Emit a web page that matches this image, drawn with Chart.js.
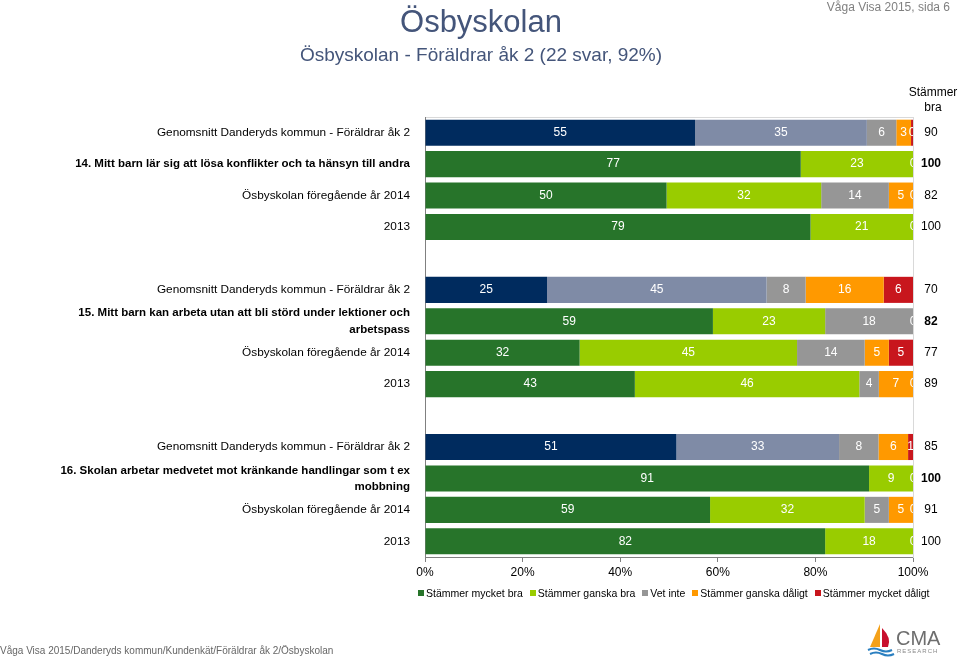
<!DOCTYPE html>
<html>
<head>
<meta charset="utf-8">
<script src="https://cdn.jsdelivr.net/npm/chart.js@4.4.1/dist/chart.umd.min.js"></script>
<style>
  html, body { margin: 0; padding: 0; background: #fff; }
  body { width: 960px; height: 660px; position: relative; overflow: hidden; font-family: 'Liberation Sans', Arial, sans-serif; }
  #wrap { position: absolute; left: 0; top: 0; width: 960px; height: 660px; }
  .abs { position: absolute; white-space: nowrap; }
  #title { left: 0; width: 962px; top: 4px; text-align: center; font-size: 31px; color: #44557A; }
  #subtitle { left: 0; width: 962px; top: 44px; text-align: center; font-size: 19px; color: #44557A; }
  #page { right: 10px; top: 0px; font-size: 12px; color: #808080; }
  #hdr { left: 906px; width: 54px; top: 85px; text-align: center; font-size: 12px; line-height: 15px; color: #000; }
  #legend { left: 418px; top: 587px; font-size: 10.5px; color: #000; display: flex; }
  #legend span.item { display: flex; align-items: center; margin-right: 7px; }
  #legend span.box { display: inline-block; width: 6px; height: 6px; margin-right: 2px; }
  #footer { left: 0; top: 645px; font-size: 10px; color: #666; }
  #logo { left: 866px; top: 620px; }
</style>
</head>
<body>
<div id="wrap"><canvas id="c" width="960" height="660"></canvas></div>
<div class="abs" id="title">Ösbyskolan</div>
<div class="abs" id="subtitle">Ösbyskolan - Föräldrar åk 2 (22 svar, 92%)</div>
<div class="abs" id="page">Våga Visa 2015, sida 6</div>
<div class="abs" id="hdr">Stämmer<br>bra</div>
<div class="abs" id="legend"></div>
<div class="abs" id="footer">Våga Visa 2015/Danderyds kommun/Kundenkät/Föräldrar åk 2/Ösbyskolan</div>
<div class="abs" id="logo">
  <svg width="90" height="40" viewBox="0 0 90 40">
    <path d="M14 4 L14 27 L4 27 Z" fill="#F4A11A"/>
    <path d="M16 8 Q26 18 22 27 L16 27 Z" fill="#C8102E"/>
    <path d="M2 30 Q8 27 14 30 T26 30" stroke="#2A7FC0" stroke-width="2" fill="none"/>
    <path d="M4 34 Q10 31 16 34 T28 34" stroke="#2A7FC0" stroke-width="2" fill="none"/>
    <text x="30" y="25" font-family="Liberation Sans, Arial" font-size="20" fill="#6E6E6E">CMA</text>
    <text x="31" y="33" font-family="Liberation Sans, Arial" font-size="6" fill="#8A8A8A" letter-spacing="1">RESEARCH</text>
  </svg>
</div>
<script>
// ---- data ----
const categories = [
  'Genomsnitt Danderyds kommun - Föräldrar åk 2',
  '14. Mitt barn lär sig att lösa konflikter och ta hänsyn till andra',
  'Ösbyskolan föregående år 2014',
  '2013',
  '',
  'Genomsnitt Danderyds kommun - Föräldrar åk 2',
  ['15. Mitt barn kan arbeta utan att bli störd under lektioner och', 'arbetspass'],
  'Ösbyskolan föregående år 2014',
  '2013',
  '',
  'Genomsnitt Danderyds kommun - Föräldrar åk 2',
  ['16. Skolan arbetar medvetet mot kränkande handlingar som t ex', 'mobbning'],
  'Ösbyskolan föregående år 2014',
  '2013'
];
const seriesNames = ['Stämmer mycket bra', 'Stämmer ganska bra', 'Vet inte', 'Stämmer ganska dåligt', 'Stämmer mycket dåligt'];
const mycketBra    = [55, 77, 50, 79, null, 25, 59, 32, 43, null, 51, 91, 59, 82];
const ganskaBra    = [35, 23, 32, 21, null, 45, 23, 45, 46, null, 33,  9, 32, 18];
const vetInte      = [ 6,  0, 14,  0, null,  8, 18, 14,  4, null,  8,  0,  5,  0];
const ganskaDaligt = [ 3,  0,  5,  0, null, 16,  0,  5,  7, null,  6,  0,  5,  0];
const mycketDaligt = [0.4, 0,  0,  0, null,  6,  0,  5,  0, null,  1,  0,  0,  0];
const stammerBra   = [90, 100, 82, 100, null, 70, 82, 77, 89, null, 85, 100, 91, 100];
const questionRows = [1, 6, 11];
const averageRows  = [0, 5, 10];
const xTicks = [0, 20, 40, 60, 80, 100];

// ---- styles ----
const colors = ['#27742A', '#99CC00', '#969696', '#FF9900', '#C8161D'];
const avgColors = ['#002B5E', '#7F8BA6'];
const FONT = "'Liberation Sans', Arial, sans-serif";
Chart.defaults.font.family = FONT;
Chart.defaults.color = '#000';

const seriesValues = [mycketBra, ganskaBra, vetInte, ganskaDaligt, mycketDaligt];
const totals = categories.map((_, i) => seriesValues.reduce((s, a) => s + (a[i] || 0), 0));

const datasets = seriesValues.map((vals, k) => ({
  label: seriesNames[k],
  raw: vals,
  data: vals.map((v, i) => v == null ? null : v / totals[i] * 100),
  backgroundColor: vals.map((v, i) => (k < 2 && averageRows.includes(i)) ? avgColors[k] : colors[k]),
  borderWidth: 0,
  categoryPercentage: 1,
  barPercentage: 0.83
}));

// HTML legend
const lg = document.getElementById('legend');
seriesNames.forEach((n, k) => {
  const it = document.createElement('span'); it.className = 'item';
  const b = document.createElement('span'); b.className = 'box'; b.style.background = colors[k];
  it.appendChild(b); it.appendChild(document.createTextNode(n)); lg.appendChild(it);
});

const labelPlugin = {
  id: 'segLabels',
  beforeDraw(chart) {
    const a = chart.chartArea, ctx = chart.ctx;
    ctx.save();
    ctx.strokeStyle = '#D9D9D9'; ctx.lineWidth = 1;
    ctx.beginPath(); ctx.moveTo(a.left, a.top + 0.5); ctx.lineTo(a.right, a.top + 0.5); ctx.stroke();
    ctx.restore();
  },
  afterDatasetsDraw(chart) {
    const a = chart.chartArea, ctx = chart.ctx;
    ctx.save();
    ctx.beginPath(); ctx.rect(a.left, a.top, a.right - a.left, a.bottom - a.top); ctx.clip();
    ctx.font = '12px ' + FONT; ctx.fillStyle = '#fff';
    ctx.textAlign = 'center'; ctx.textBaseline = 'middle';
    const drawn = {};
    chart.data.datasets.forEach((ds, k) => {
      const meta = chart.getDatasetMeta(k);
      meta.data.forEach((el, i) => {
        const v = ds.raw[i];
        if (v == null) return;
        const x = (el.x + el.base) / 2;
        const key = i + ':' + Math.round(x);
        if (drawn[key]) return;
        drawn[key] = true;
        ctx.fillText(String(Math.round(v)), x, el.y);
      });
    });
    ctx.restore();
  }
};

new Chart(document.getElementById('c'), {
  type: 'bar',
  data: { labels: categories, datasets },
  options: {
    indexAxis: 'y',
    responsive: false,
    animation: false,
    layout: { padding: { left: 0, right: 7, top: 117, bottom: 73 } },
    plugins: { legend: { display: false }, tooltip: { enabled: false } },
    scales: {
      x: {
        stacked: true, min: 0, max: 100,
        afterBuildTicks: (s) => { s.ticks = xTicks.map(v => ({ value: v })); },
        afterFit: (s) => { s.height = 30; },
        ticks: { callback: v => v + '%', font: { size: 12 }, color: '#000', padding: 3, maxRotation: 0 },
        grid: { drawOnChartArea: false, drawTicks: true, tickLength: 5, color: '#808080' },
        border: { display: true, color: '#808080' }
      },
      y: {
        stacked: true,
        afterFit: (s) => { s.width = 425; },
        ticks: {
          autoSkip: false, padding: 7, color: '#000',
          font: (c) => questionRows.includes(c.index)
            ? { size: 11.5, lineHeight: 1.4, weight: 'bold' }
            : { size: 11.8, lineHeight: 1.35, weight: 'normal' }
        },
        grid: { display: false },
        border: { display: true, color: '#808080' }
      },
      y2: {
        type: 'category', position: 'right', offset: true,
        labels: stammerBra.map(v => v == null ? '' : String(v)),
        afterFit: (s) => { s.width = 40; },
        ticks: {
          autoSkip: false, crossAlign: 'center', padding: 0, color: '#000',
          font: (c) => ({ size: 12, weight: questionRows.includes(c.index) ? 'bold' : 'normal' })
        },
        grid: { display: false },
        border: { display: true, color: '#D9D9D9' }
      }
    }
  },
  plugins: [labelPlugin]
});
</script>
</body>
</html>
